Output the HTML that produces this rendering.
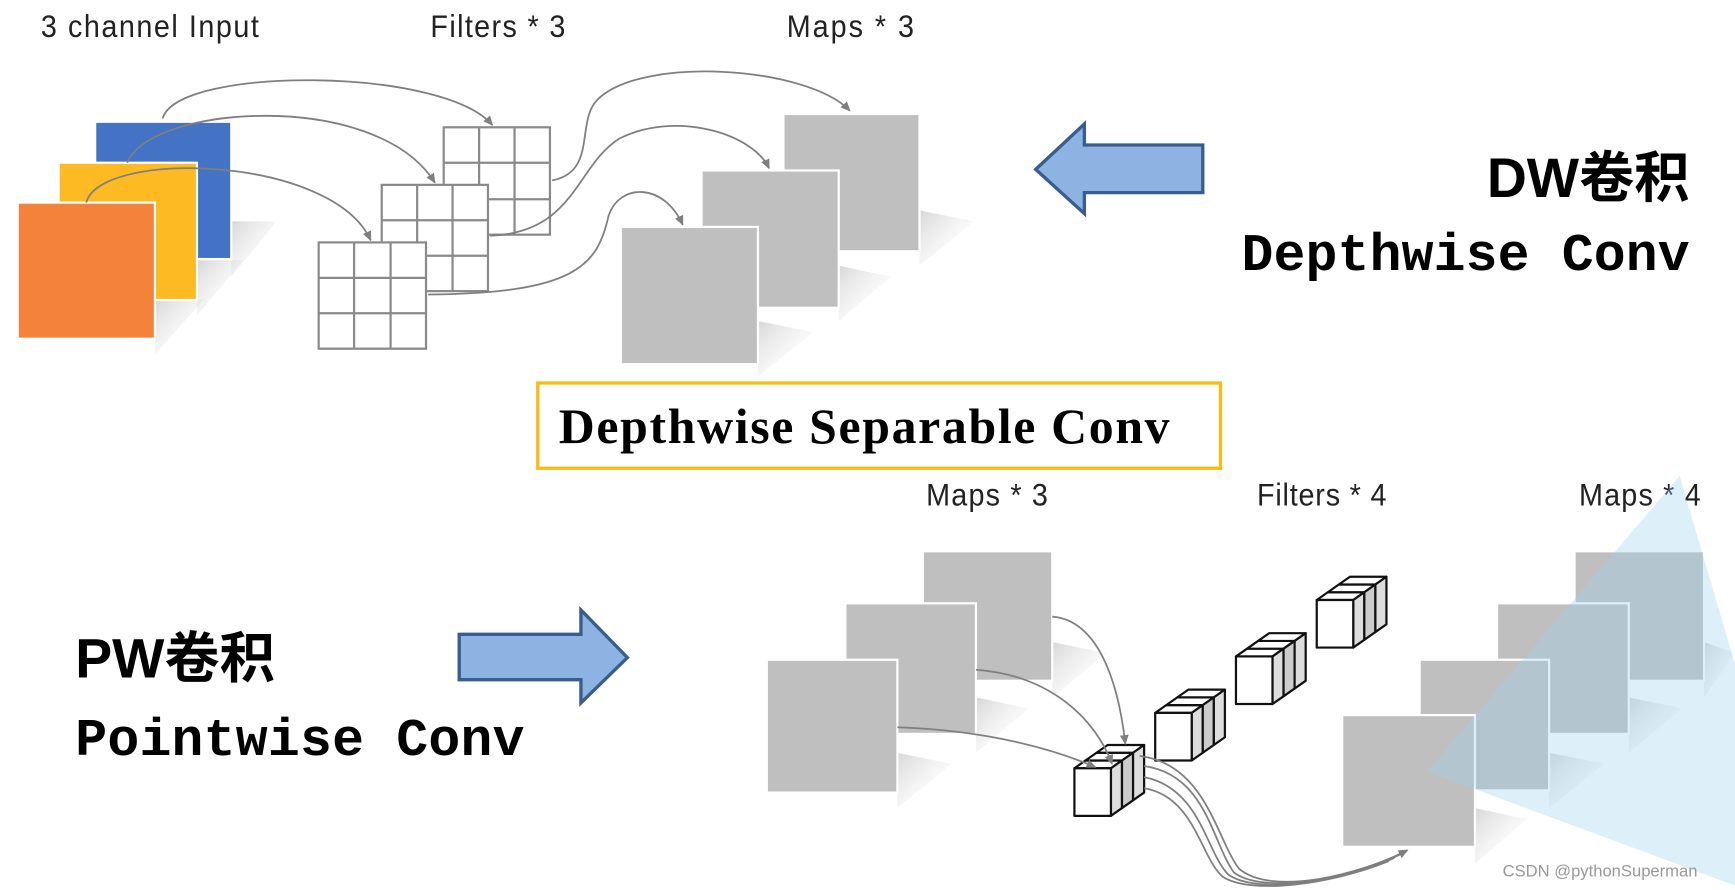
<!DOCTYPE html>
<html><head><meta charset="utf-8"><style>
html,body{margin:0;padding:0;background:#fff;}
svg{display:block}
</style></head><body>
<svg width="1735" height="890" viewBox="0 0 1568 804" preserveAspectRatio="none" xmlns="http://www.w3.org/2000/svg">
<defs>
<marker id="ah" markerWidth="10" markerHeight="10" refX="8" refY="5" orient="auto" markerUnits="userSpaceOnUse"><path d="M0,1 L9,5 L0,9 z" fill="#7f7f7f"/></marker>
<linearGradient id="sh" x1="0" y1="0" x2="1" y2="1"><stop offset="0" stop-color="#bbb" stop-opacity="0.6"/><stop offset="1" stop-color="#fff" stop-opacity="0"/></linearGradient>
</defs>
<g font-family="'Liberation Sans',sans-serif" font-size="26" fill="#222" transform="scale(1,1.08)">
<text x="37" y="31" textLength="197">3 channel Input</text>
<text x="389" y="31" textLength="122">Filters * 3</text>
<text x="711" y="31" textLength="115">Maps * 3</text>
<text x="837" y="423" textLength="110">Maps * 3</text>
<text x="1136" y="423" textLength="117">Filters * 4</text>
<text x="1427" y="423" textLength="110">Maps * 4</text>
</g>
<g fill="url(#sh)">
<polygon points="209,200 250,200 209,250"/><polygon points="178,235 220,235 178,285"/><polygon points="140,270 185,270 140,320"/>
<polygon points="831,190 880,200 831,240"/><polygon points="758,240 805,250 758,290"/><polygon points="685,290 735,300 685,340"/>
<polygon points="951,580 1000,590 951,630"/><polygon points="882,630 930,640 882,680"/><polygon points="811,680 860,690 811,730"/>
<polygon points="1540,580 1568,590 1540,630"/><polygon points="1472,630 1520,640 1472,680"/><polygon points="1400,680 1450,690 1400,730"/><polygon points="1333,730 1380,740 1333,780"/>
</g>
<rect x="86" y="110" width="123" height="124" fill="#4472c4" stroke="#fff" stroke-width="2"/>
<rect x="53" y="147" width="125" height="124" fill="#fdba22" stroke="#fff" stroke-width="2"/>
<rect x="16" y="183" width="124" height="123" fill="#f5823a" stroke="#fff" stroke-width="2"/>
<g fill="#fff" stroke="#8a8a8a" stroke-width="2">
<rect x="401" y="115" width="96" height="97"/><path d="M433,115V212M465,115V212M401,147H497M401,180H497"/>
<rect x="345" y="167" width="96" height="96"/><path d="M377,167V263M409,167V263M345,199H441M345,231H441"/>
<rect x="288" y="219" width="97" height="96"/><path d="M320,219V315M353,219V315M288,251H385M288,283H385"/>
</g>
<g fill="#bfbfbf" stroke="#fff" stroke-width="2">
<rect x="708" y="103" width="123" height="124"/>
<rect x="634" y="154" width="124" height="124"/>
<rect x="561" y="205" width="124" height="124"/>
</g>
<g fill="none" stroke="#7f7f7f" stroke-width="1.6" marker-end="url(#ah)">
<path d="M147,107 C160,60 400,60 445,113"/>
<path d="M115,147 C135,95 340,80 393,165"/>
<path d="M78,183 C90,135 300,140 335,217"/>
<path d="M499,163 C540,155 520,110 540,90 C580,50 730,60 768,100"/>
<path d="M443,213 C520,210 520,150 560,125 C610,100 680,120 695,152"/>
<path d="M387,266 C520,265 540,240 550,195 C560,165 600,165 617,203"/>
</g>
<polygon points="936,153 980,112 980,131 1087,131 1087,174 980,174 980,193" fill="#8db3e2" stroke="#3a5d8f" stroke-width="3"/>
<text x="1527" y="178" text-anchor="end" font-family="'Liberation Sans','Noto Sans CJK SC',sans-serif" font-weight="bold" font-size="50">DW卷积</text>
<text x="1527" y="244" text-anchor="end" font-family="'Liberation Mono',monospace" font-weight="bold" font-size="48" textLength="405">Depthwise Conv</text>
<rect x="486" y="346" width="617" height="77" fill="#fff" stroke="#f9bc15" stroke-width="3"/>
<text x="505" y="400" font-family="'Liberation Serif',serif" font-weight="bold" font-size="45" textLength="552">Depthwise Separable Conv</text>
<text x="68" y="612" font-family="'Liberation Sans','Noto Sans CJK SC',sans-serif" font-weight="bold" font-size="50">PW卷积</text>
<text x="68" y="682" font-family="'Liberation Mono',monospace" font-weight="bold" font-size="48" textLength="406">Pointwise Conv</text>
<polygon points="415,573 525,573 525,551 567,594 525,635 525,614 415,614" fill="#8db3e2" stroke="#3a5d8f" stroke-width="3"/>
<g fill="#bfbfbf" stroke="#fff" stroke-width="2">
<rect x="834" y="498" width="117" height="117"/>
<rect x="764" y="545" width="118" height="118"/>
<rect x="693" y="596" width="118" height="120"/>
<rect x="1423" y="498" width="117" height="117"/>
<rect x="1353" y="545" width="119" height="118"/>
<rect x="1283" y="596" width="117" height="118"/>
<rect x="1213" y="646" width="120" height="119"/>
</g>
<polygon points="1518,430 1568,600 1568,800 1290,697" fill="#9fd3f0" fill-opacity="0.35"/>
<g stroke="#111" stroke-width="2" stroke-linejoin="round">
<g id="cs" transform="translate(971,694)">
<polygon points="0,0 33,0 43,-7 10,-7" fill="#fff"/>
<polygon points="10,-7 43,-7 53,-14 20,-14" fill="#fff"/>
<polygon points="20,-14 53,-14 63,-21 30,-21" fill="#fff"/>
<polygon points="33,0 43,-7 43,36 33,43" fill="#ddd"/>
<polygon points="43,-7 53,-14 53,29 43,36" fill="#ccc"/>
<polygon points="53,-14 63,-21 63,22 53,29" fill="#ddd"/>
<rect x="0" y="0" width="33" height="43" fill="#fff"/>
</g>
<use href="#cs" transform="translate(73,-50)"/>
<use href="#cs" transform="translate(146,-101)"/>
<use href="#cs" transform="translate(219,-152)"/>
</g>
<g fill="none" stroke="#7f7f7f" stroke-width="1.6">
<path d="M951,557 C990,560 1010,610 1017,672" marker-end="url(#ah)"/>
<path d="M882,605 C950,610 990,650 1005,690" marker-end="url(#ah)"/>
<path d="M811,657 C900,660 960,680 990,693" marker-end="url(#ah)"/>
<path d="M1030,683 C1090,690 1100,760 1120,785 C1150,810 1230,790 1272,768" marker-end="url(#ah)"/>
<path d="M1034,692 C1090,700 1095,760 1115,788 C1140,808 1220,795 1265,772"/>
<path d="M1034,702 C1085,712 1090,770 1110,790 C1135,808 1210,798 1260,775"/>
<path d="M1034,712 C1080,720 1085,775 1105,792 C1130,808 1200,800 1255,778"/>
</g>
<text x="1358" y="792" font-family="'Liberation Sans',sans-serif" font-size="15" fill="#999">CSDN @pythonSuperman</text>
</svg>
</body></html>
